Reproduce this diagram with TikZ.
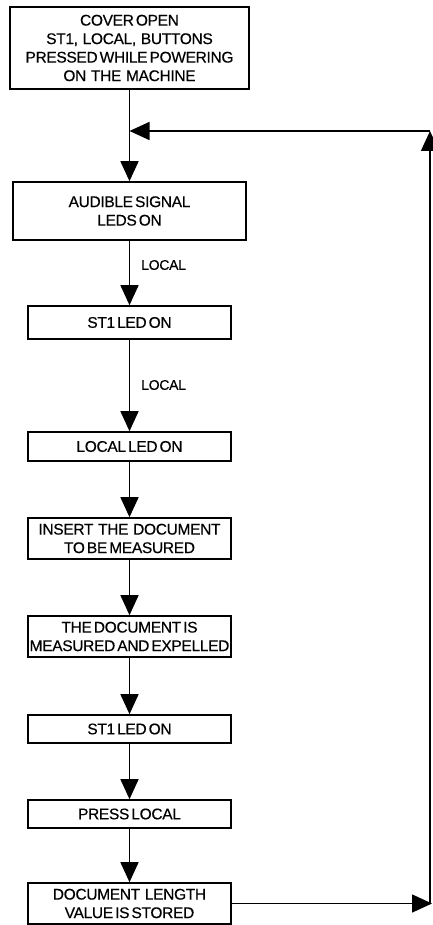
\documentclass[tikz,border=0pt]{standalone}
\usepackage{fontspec}
\setmainfont[WordSpace=0.5,LetterSpace=-2,FakeBold=0.4]{Liberation Sans}
\newcommand{\wsp}{\hspace{0.3em}}
\usetikzlibrary{arrows.meta}
\begin{document}
\begin{tikzpicture}[x=1pt,y=-1pt,
  box/.style={draw,line width=1.6pt,rectangle,inner sep=0pt,align=center,
    font=\fontsize{15.5}{18.5}\selectfont},
  conn/.style={line width=1.5pt},
  arr/.style={conn,-{Triangle[length=20pt,width=18pt]}},
  lbl/.style={anchor=west,inner sep=0pt,font=\fontsize{14}{15}\selectfont}]
\useasboundingbox (0,0) rectangle (432,925);
\node[box,minimum width=239pt,minimum height=82pt] (b1) at (129.5,48)
  {COVER OPEN\\ST1,\wsp LOCAL,\wsp BUTTONS\\PRESSED WHILE POWERING\\ON\wsp THE\wsp MACHINE};
\node[box,minimum width=233pt,minimum height=58pt] (b2) at (129.5,211)
  {AUDIBLE SIGNAL\\LEDS ON};
\node[box,minimum width=203pt,minimum height=33pt] (b3) at (129.5,322.5)
  {ST1 LED ON};
\node[box,minimum width=203pt,minimum height=29pt] (b4) at (129.5,446.5)
  {LOCAL LED ON};
\node[box,minimum width=203pt,minimum height=41pt] (b5) at (129.5,538.5)
  {INSERT\wsp THE\wsp DOCUMENT\\TO BE MEASURED};
\node[box,minimum width=203pt,minimum height=41pt] (b6) at (129.5,636.5)
  {THE DOCUMENT IS\\MEASURED AND EXPELLED};
\node[box,minimum width=203pt,minimum height=28pt] (b7) at (129.5,729)
  {ST1 LED ON};
\node[box,minimum width=203pt,minimum height=28pt] (b8) at (129.5,814)
  {PRESS LOCAL};
\node[box,minimum width=203pt,minimum height=41pt] (b9) at (129.5,903.5)
  {DOCUMENT\wsp LENGTH\\VALUE IS STORED};
\node[lbl] (l1) at (141,265) {LOCAL};
\node[lbl] (l2) at (141,385) {LOCAL};
\coordinate (j) at (129.5,131);
\coordinate (tr) at (430,131);
\coordinate (brl) at (430,903.5);
\coordinate (br) at (432,903.5);
\draw[conn] (b1.south) -- (j);
\draw[arr] (j) -- (b2.north);
\draw[arr] (b2.south) -- (b3.north);
\draw[arr] (b3.south) -- (b4.north);
\draw[arr] (b4.south) -- (b5.north);
\draw[arr] (b5.south) -- (b6.north);
\draw[arr] (b6.south) -- (b7.north);
\draw[arr] (b7.south) -- (b8.north);
\draw[arr] (b8.south) -- (b9.north);
\draw[arr] (b9.east) -- (br);
\draw[arr] (brl) -- (tr);
\draw[arr] (tr) -- (j);
\end{tikzpicture}
\end{document}
